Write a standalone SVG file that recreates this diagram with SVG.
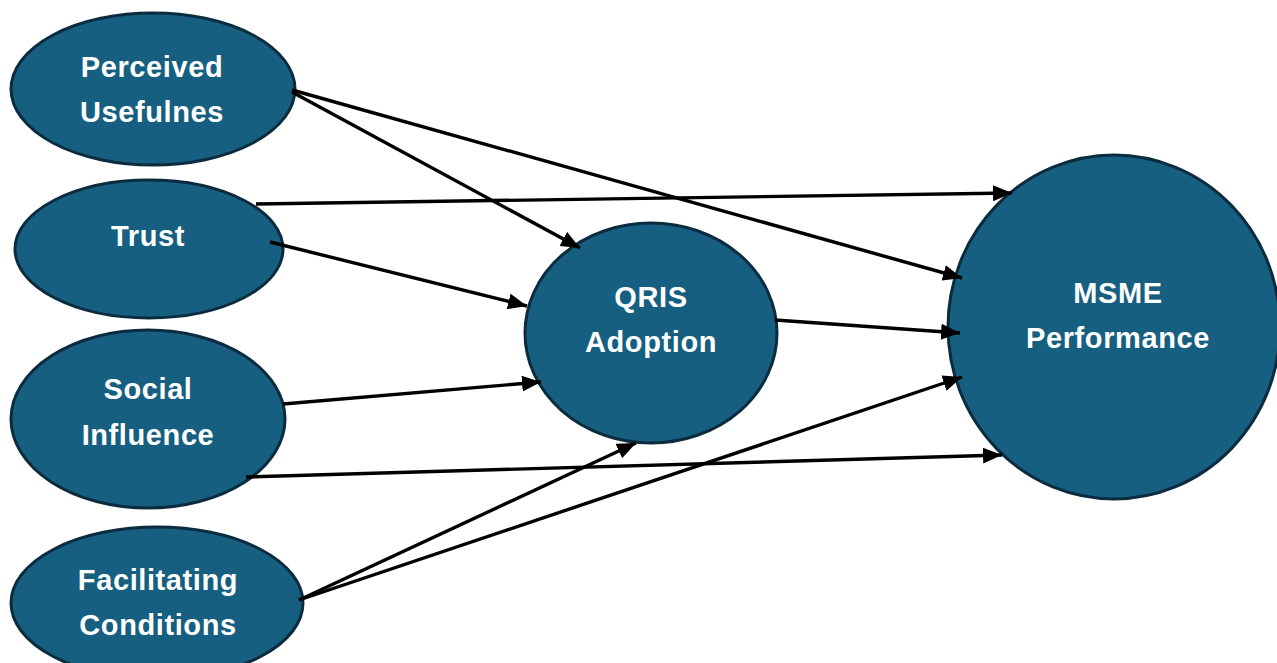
<svg xmlns="http://www.w3.org/2000/svg" width="1277" height="663" viewBox="0 0 1277 663">
<style>
.node{fill:#175f80;stroke:#0b2c3f;stroke-width:3}
.lbl{fill:#ffffff;font-family:"Liberation Sans",Arial,sans-serif;font-weight:bold;font-size:29px;letter-spacing:0.6px;text-anchor:middle}
.edge{stroke:#000;stroke-width:3.4;fill:none;marker-end:url(#arr)}
</style>
<defs>
<marker id="arr" markerUnits="userSpaceOnUse" markerWidth="20" markerHeight="16" refX="19" refY="8" orient="auto">
<path d="M0,0 L19,8 L0,16 z" fill="#000"/>
</marker>
</defs>
<rect width="1277" height="663" fill="#fff"/>
<g id="nodes">
<g id="pu"><ellipse class="node" cx="153" cy="89" rx="142" ry="76"/><text class="lbl" x="152" y="77">Perceived</text><text class="lbl" x="152" y="122">Usefulnes</text></g>
<g id="trust"><ellipse class="node" cx="149" cy="249" rx="134" ry="69"/><text class="lbl" x="148" y="246">Trust</text></g>
<g id="social"><ellipse class="node" cx="148" cy="419" rx="137" ry="89"/><text class="lbl" x="148" y="399">Social</text><text class="lbl" x="148" y="445">Influence</text></g>
<g id="fc"><ellipse class="node" cx="157" cy="603" rx="146" ry="76"/><text class="lbl" x="158" y="590">Facilitating</text><text class="lbl" x="158" y="635">Conditions</text></g>
<g id="qris"><ellipse class="node" cx="651" cy="333" rx="126" ry="110"/><text class="lbl" x="651" y="307">QRIS</text><text class="lbl" x="651" y="352">Adoption</text></g>
<g id="msme"><ellipse class="node" cx="1114" cy="327" rx="166" ry="172"/><text class="lbl" x="1118" y="303">MSME</text><text class="lbl" x="1118" y="348">Performance</text></g>
</g>
<g id="connectors">
<line class="edge" x1="292" y1="92" x2="580" y2="248"/>
<line class="edge" x1="292" y1="90" x2="962" y2="278"/>
<line class="edge" x1="256" y1="204" x2="1012" y2="193"/>
<line class="edge" x1="270" y1="242" x2="527" y2="306"/>
<line class="edge" x1="775" y1="320" x2="960" y2="333"/>
<line class="edge" x1="283" y1="404" x2="541" y2="382"/>
<line class="edge" x1="246" y1="477" x2="1002" y2="455"/>
<line class="edge" x1="299" y1="600" x2="636" y2="443"/>
<line class="edge" x1="299" y1="600" x2="962" y2="377"/>
</g>
</svg>
